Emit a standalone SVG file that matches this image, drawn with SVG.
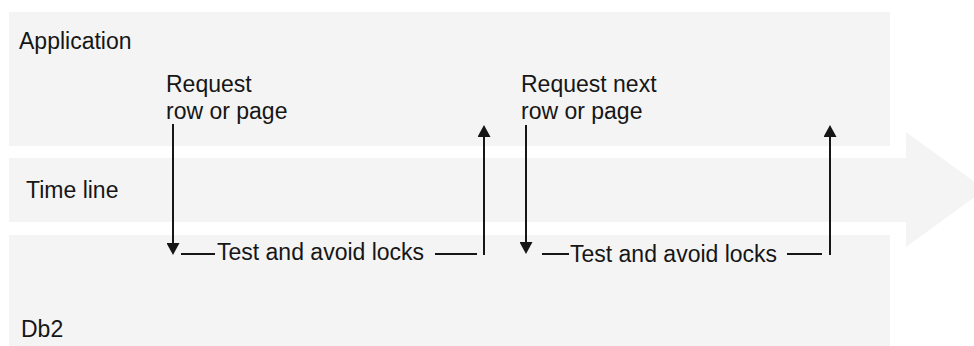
<svg xmlns="http://www.w3.org/2000/svg" width="974" height="346" viewBox="0 0 974 346">
  <style>
    .panel { fill: #f4f4f4; stroke: none; }
    .lbl { font-family: "Liberation Sans", Arial, sans-serif; font-size: 23px; fill: #161616; }
    .conn { stroke: #161616; stroke-width: 2; fill: none; }
  </style>
  <defs>
    <marker id="ah" markerUnits="userSpaceOnUse" markerWidth="12" markerHeight="13" refX="6" refY="6.5" orient="auto" viewBox="0 0 12 13">
      <path d="M0,0 L12,6.5 L0,13 z" fill="#161616"/>
    </marker>
  </defs>
  <rect width="974" height="346" fill="#ffffff"/>

  <g id="application">
    <rect class="panel" x="9" y="12" width="881" height="134"/>
    <text class="lbl" x="19" y="49">Application</text>
  </g>
  <g id="timeline">
    <polygon class="panel" points="9,158 906,158 906,132 985,189.5 906,247 906,222 9,222"/>
    <text class="lbl" x="26" y="198">Time line</text>
  </g>
  <g id="db2">
    <rect class="panel" x="9" y="235" width="881" height="111"/>
    <text class="lbl" x="21" y="337">Db2</text>
  </g>

  <g id="request1">
    <text class="lbl" x="166" y="92">Request</text>
    <text class="lbl" x="166" y="119">row or page</text>
  </g>
  <g id="request2">
    <text class="lbl" x="521" y="92">Request next</text>
    <text class="lbl" x="521" y="119">row or page</text>
  </g>
  <g id="test1">
    <text class="lbl" x="217" y="260">Test and avoid locks</text>
  </g>
  <g id="test2">
    <text class="lbl" x="570" y="262">Test and avoid locks</text>
  </g>

  <g id="connectors">
    <line class="conn" x1="173" y1="124" x2="173" y2="249" marker-end="url(#ah)"/>
    <line class="conn" x1="181" y1="254" x2="215" y2="254"/>
    <line class="conn" x1="435" y1="254" x2="477" y2="254"/>
    <line class="conn" x1="484" y1="255" x2="484" y2="131" marker-end="url(#ah)"/>
    <line class="conn" x1="526" y1="125" x2="526" y2="248" marker-end="url(#ah)"/>
    <line class="conn" x1="542" y1="254" x2="569" y2="254"/>
    <line class="conn" x1="787" y1="254" x2="822" y2="254"/>
    <line class="conn" x1="830" y1="255" x2="830" y2="131" marker-end="url(#ah)"/>
  </g>
</svg>
